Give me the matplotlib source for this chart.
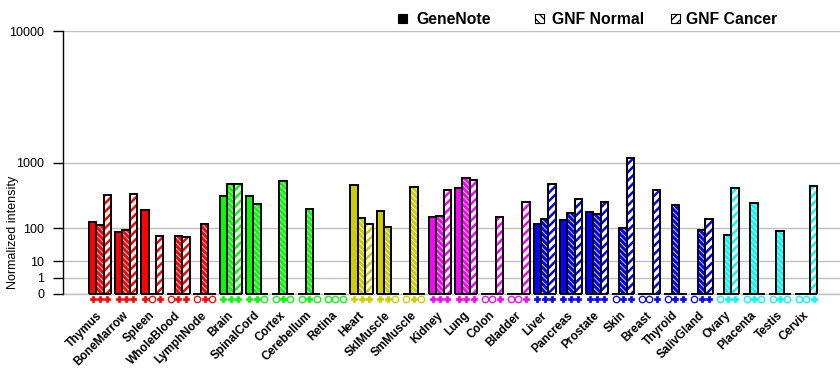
import numpy as np
import matplotlib
matplotlib.use("Agg")
import matplotlib.pyplot as plt
from matplotlib.patches import Rectangle
from matplotlib.transforms import ScaledTranslation

plt.rcParams['font.family'] = ['Liberation Sans', 'DejaVu Sans']

# ---------------- data ----------------
tissues = ["Thymus", "BoneMarrow", "Spleen", "WholeBlood", "LymphNode",
           "Brain", "SpinalCord", "Cortex", "Cerebellum", "Retina",
           "Heart", "SklMuscle", "SmMuscle",
           "Kidney", "Lung", "Colon", "Bladder",
           "Liver", "Pancreas", "Prostate", "Skin", "Breast", "Thyroid", "SalivGland",
           "Ovary", "Placenta", "Testis", "Cervix"]
tissue_colors = (["#FF0000"] * 5 + ["#00FF00"] * 5 + ["#CCCC00"] * 3 +
                 ["#FF00FF"] * 4 + ["#0000FF"] * 7 + ["#00FFFF"] * 4)

genenote = [133, 82, 223, 0, 0, 372, 372, 0, 0, 0, 536, 214, 0,
            167, 484, 0, 0, 121, 146, 206, 0, 0, 0, 0, 0, 0, 0, 0]
gnf_normal = [115, 90, 0, 65, 123, 547, 283, 599, 232, 0, 160, 105, 504,
              174, 653, 0, 0, 157, 197, 192, 101, 0, 273, 93, 69, 294, 87, 0]
gnf_cancer = [389, 402, 65, 61, 0, 547, 0, 0, 0, 0, 121, 0, 0,
              459, 622, 167, 302, 547, 336, 302, 1110, 459, 0, 155, 484, 0, 0, 520]

# presence flags (filled / open markers under bars)
present_genenote = [1, 1, 1, 0, 0, 1, 1, 0, 0, 0, 1, 1, 0, 1, 1, 0, 0, 1, 1, 1, 0, 0, 0, 0, 0, 0, 0, 0]
present_normal   = [1, 1, 0, 1, 1, 1, 1, 1, 1, 0, 1, 1, 1, 1, 1, 0, 0, 1, 1, 1, 1, 0, 1, 1, 1, 1, 1, 0]
present_cancer   = [1, 1, 1, 1, 0, 1, 0, 0, 0, 0, 1, 0, 0, 1, 1, 1, 1, 1, 1, 1, 1, 1, 1, 1, 1, 0, 0, 1]

series_names = ["GeneNote", "GNF Normal", "GNF Cancer"]
y_ticks = [0, 1, 10, 100, 1000, 10000]

# ---------------- figure ----------------
W, H = 840, 385
fig = plt.figure(figsize=(W / 100, H / 100), dpi=100)
ax_left, ax_bottom_px, ax_top_px = 63.3, 294, 31
ax = fig.add_axes([ax_left / W, 1 - ax_bottom_px / H, (W - ax_left) / W,
                   (ax_bottom_px - ax_top_px) / H])

p = np.log10(2)
fwd = lambda v: np.power(np.clip(v, 0, None), p)
inv = lambda v: np.power(np.clip(v, 0, None), 1 / p)
ax.set_yscale('function', functions=(fwd, inv))
ax.set_ylim(0, 10000)

n = len(tissues)
x = np.arange(n)
bw = 0.283
ax.set_xlim(-1.40, 28.29)

def set_hlw(bars, lw):
    for b in bars:
        if hasattr(b, "set_hatch_linewidth"):
            b.set_hatch_linewidth(lw)

LW = 1.4
# GeneNote: solid
ax.bar(x - bw, genenote, bw, color=tissue_colors, edgecolor='black', linewidth=LW, zorder=3)
# GNF Normal: colour with white backslash hatch
with plt.rc_context({'hatch.linewidth': 0.55}):
    b = ax.bar(x, gnf_normal, bw, color=tissue_colors, edgecolor='white',
               hatch='\\\\\\\\\\\\', linewidth=0, zorder=3)
    set_hlw(b, 0.55)
ax.bar(x, gnf_normal, bw, fill=False, edgecolor='black', linewidth=LW, zorder=4)
# GNF Cancer: white with coloured slash hatch
with plt.rc_context({'hatch.linewidth': 1.8}):
    b = ax.bar(x + bw, gnf_cancer, bw, color='white', edgecolor=tissue_colors,
               hatch='////', linewidth=0, zorder=3)
    set_hlw(b, 1.8)
ax.bar(x + bw, gnf_cancer, bw, fill=False, edgecolor='black', linewidth=LW, zorder=4)

# black base segment under each group
ax.hlines(np.zeros(n), x - 1.5 * bw, x + 1.5 * bw, color='black', linewidth=1.3,
          zorder=5, clip_on=False)

# presence markers
ymk = -4.8 / (ax_bottom_px - ax_top_px)
trans = ax.get_xaxis_transform()
for j, flags in enumerate([present_genenote, present_normal, present_cancer]):
    xs = x + (j - 1) * bw
    for i in range(n):
        if flags[i]:
            ax.plot(xs[i], ymk, marker='P', markersize=4.8, color=tissue_colors[i],
                    markeredgecolor=tissue_colors[i], markeredgewidth=0.5,
                    transform=trans, clip_on=False, zorder=6)
        else:
            ax.plot(xs[i], ymk, marker='o', markersize=4.6, markerfacecolor='white',
                    markeredgecolor=tissue_colors[i], markeredgewidth=0.9,
                    transform=trans, clip_on=False, zorder=6)

# axes styling
ax.set_yticks(y_ticks)
ax.set_yticklabels([str(t) for t in y_ticks], fontsize=9)
ax.yaxis.grid(True, color='#C0C0C0', linewidth=1.0, zorder=0)
ax.set_axisbelow(True)
ax.tick_params(axis='y', direction='out', length=7.2, width=1, pad=6.5, color='black')
for s in ['top', 'right']:
    ax.spines[s].set_visible(False)
ax.spines['bottom'].set_color('#C0C0C0')
ax.spines['bottom'].set_linewidth(1.0)
ax.spines['left'].set_color('black')
ax.spines['left'].set_linewidth(1.0)
ax.spines['left'].set_zorder(6)

ax.set_xticks(x)
ax.set_xticklabels(tissues, rotation=45, ha='right', va='top', fontsize=8.5,
                   fontweight='bold')
ax.tick_params(axis='x', length=0, pad=11)
off = ScaledTranslation(5 / 100, 0, fig.dpi_scale_trans)
for lab in ax.get_xticklabels():
    lab.set_transform(lab.get_transform() + off)

ax.set_ylabel("Normalized intensity", fontsize=9)
ax.yaxis.set_label_coords((12.5 - ax_left) / (W - ax_left), (294 - 232) / 263)
ax.yaxis.label.set_va('center')

# legend (manual, at fixed positions)
def px(xp, yp):
    return xp / W, 1 - yp / H

icon_x = [398, 535, 671]
text_x = [416.7, 551.7, 686]
icon_fill = ['black', 'white', 'white']
icon_hatch = [None, '\\\\\\\\', '////']
for k in range(3):
    x0, y0 = px(icon_x[k], 23.3)
    with plt.rc_context({'hatch.linewidth': 0.9}):
        r = Rectangle((x0, y0), 8.7 / W, 9 / H, transform=fig.transFigure,
                      facecolor=icon_fill[k], edgecolor='black', linewidth=0.8,
                      hatch=icon_hatch[k])
    fig.add_artist(r)
    tx, ty = px(text_x[k], 19.5)
    fig.text(tx, ty, series_names[k], fontsize=11.3, fontweight='bold',
             ha='left', va='center')

fig.savefig("out.png", dpi=100)
